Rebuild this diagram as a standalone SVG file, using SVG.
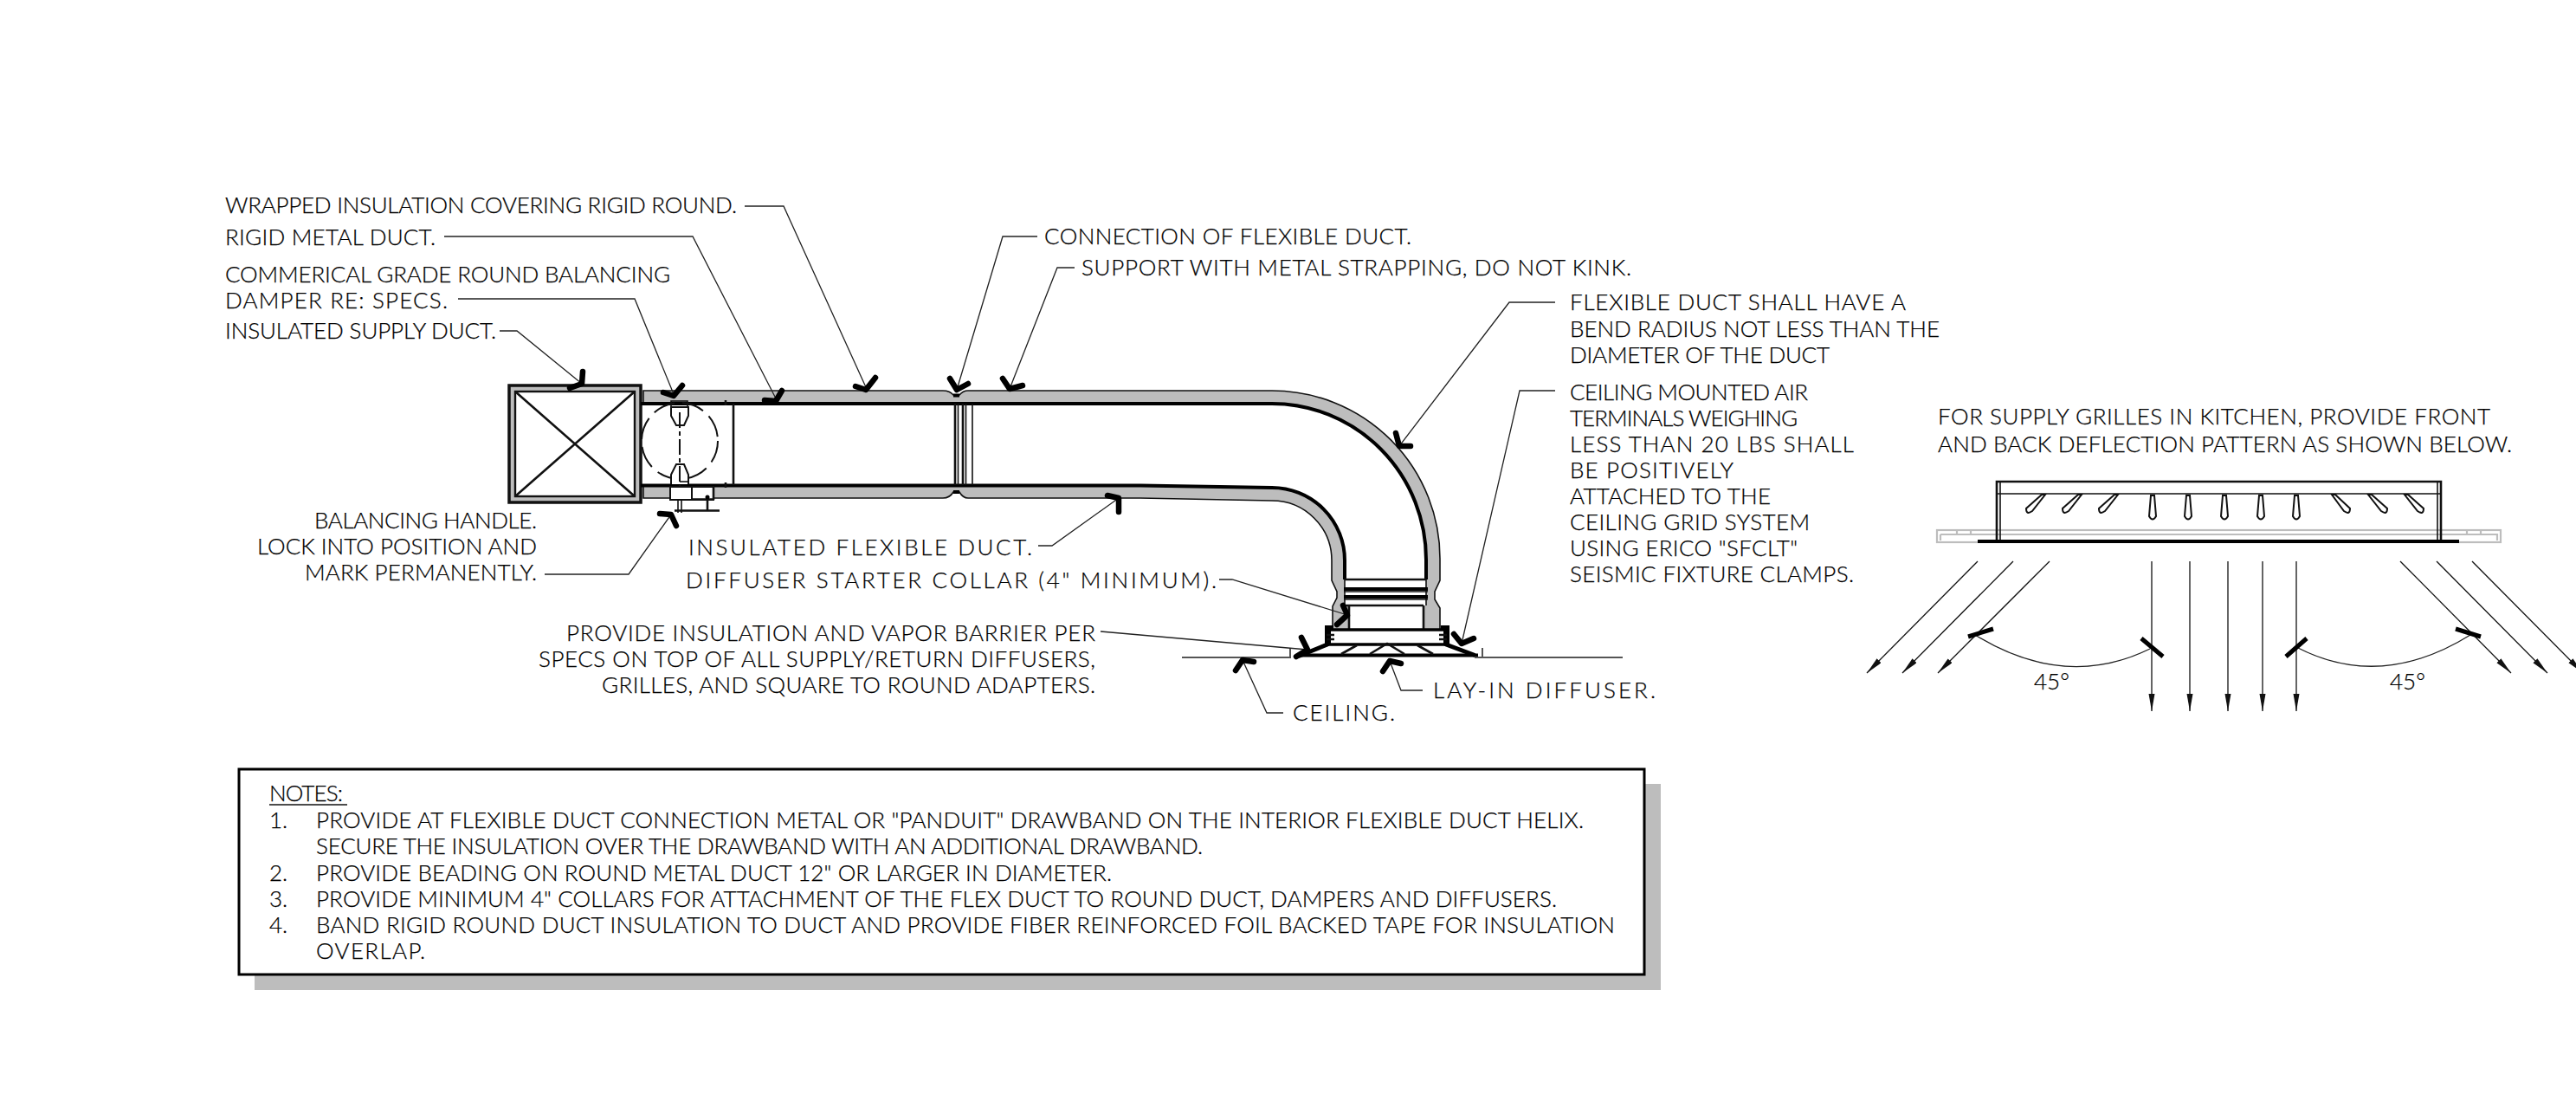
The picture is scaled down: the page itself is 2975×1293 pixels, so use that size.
<svg xmlns="http://www.w3.org/2000/svg" width="2975" height="1293" viewBox="0 0 2975 1293">
<style>
text{font-family:"Lato","Liberation Sans",sans-serif;font-weight:300;font-size:26px;fill:#000;stroke:#000;stroke-width:.25}
.lead{fill:none;stroke:#222;stroke-width:1.3}
.tick{fill:none;stroke:#000;stroke-width:6.5;stroke-linecap:round;stroke-linejoin:round}
.thin{fill:none;stroke:#111;stroke-width:1.6}
.med{fill:none;stroke:#111;stroke-width:2.6}
.thick{fill:none;stroke:#000;stroke-width:4}
.ins{fill:#bdbdbd}
.flow{fill:none;stroke:#111;stroke-width:1.3;marker-end:url(#ah)}
.gr{fill:none;stroke:#bdbdbd;stroke-width:2.2}
.vane{fill:#fff;stroke:#111;stroke-width:2}
</style>
<defs>
<marker id="ah" markerUnits="userSpaceOnUse" markerWidth="22" markerHeight="8" refX="20" refY="3.5" orient="auto"><path d="M0 0L20 3.5L0 7Z" fill="#111"/></marker>
</defs>
<rect width="2975" height="1293" fill="#fff"/>

<g id="supply-duct">
<rect x="588" y="445" width="152" height="135" fill="#bdbdbd" stroke="#111" stroke-width="3.5"/>
<rect x="595" y="452" width="138" height="121" fill="#fff" stroke="#111" stroke-width="2.4"/>
<path class="med" d="M595 452L733 573M733 452L595 573"/>
</g>

<g id="duct">
<path class="ins" d="M743 451H1089Q1097 451 1101 456H1108Q1112 451 1118 451H1469A194 194 0 0 1 1663 646V670L1657 683V692L1663 702V727H1644V699H1647V646A178 180 0 0 0 1469 466H743Z"/>
<path class="ins" d="M743 575H1089Q1097 575 1101 568H1108Q1112 575 1118 575H1317L1469 578A69 69 0 0 1 1538 647V670L1544 683V690L1539 700V727H1558V699H1553V647A84 84 0 0 0 1469 563L1317 560H743Z"/>
<path class="thin" d="M743 466V451H1089Q1097 451 1101 456H1108Q1112 451 1118 451H1469A194 194 0 0 1 1663 646V670L1657 683V692L1663 702V727"/>
<path class="thin" d="M743 560V575H1089Q1097 575 1101 568H1108Q1112 575 1118 575H1317L1469 578A69 69 0 0 1 1538 647V670L1544 683V690L1539 700V727"/>
<path class="thick" d="M740 466H1469A178 180 0 0 1 1647 646V669"/>
<path class="thick" d="M740 560.500H1317L1469 563A84 84 0 0 1 1553 647V669"/>
<path class="med" d="M847 466V560M838 462V468M838 557V563"/>
<path class="med" d="M1103 466V560M1112 466V560"/>
<path class="thin" d="M1106.500 466V560M1115.500 466V560M1123 466V560"/>
<path class="thick" d="M1101 456.500H1108M1101 568H1108"/>
</g>

<g id="damper">
<circle cx="785" cy="509" r="44" fill="none" stroke="#111" stroke-width="2" stroke-dasharray="26 9"/>
<rect x="775" y="463" width="19" height="7" fill="none" stroke="#111" stroke-width="1.6"/>
<path class="thin" style="fill:#fff;stroke-width:2" d="M775 470V480L781 491H790L795 480V470Z"/>
<path class="thin" style="fill:#fff;stroke-width:2" d="M775 559V548L781 536H790L795 548V559"/>
<path class="thin" style="stroke-width:2" d="M785 476V570" stroke-dasharray="18 4 5 4"/>
<path class="thin" d="M785 556H795"/>
<rect x="774" y="562" width="25" height="15" fill="#fff" stroke="#111" stroke-width="2"/>
<rect x="799" y="562" width="25" height="15" fill="#fff" stroke="#111" stroke-width="2"/>
<path class="med" d="M799 576.500H824M824 562V577"/>
<path class="thin" d="M783 577V592M787 577V592"/>
<path class="med" d="M779 589.500H831M817 575V589"/>
<circle cx="817" cy="574" r="2.500" fill="#000"/>
</g>

<g id="collar">
<path class="med" d="M1553 669H1647M1553 699H1644M1558 699V727M1644 699V727"/>
<path class="thin" d="M1553 669V699M1647 669V699"/>
<path class="thick" d="M1552 680H1649M1552 689H1649"/>
<path class="thin" d="M1552 683H1649M1552 692H1649"/>
</g>

<g id="diffuser">
<rect x="1533" y="727" width="137" height="17" fill="#fff" stroke="#000" stroke-width="3.5"/>
<path d="M1530 722H1540V727H1537V743H1530ZM1664 722H1674V743H1667V727H1664Z" fill="#000"/>
<path class="med" d="M1532 733H1541M1532 738H1541M1662 733H1671M1662 738H1671"/>
<path class="tick" style="stroke-width:5" d="M1533 744L1501 757M1670 744L1702 756"/>
<path class="thick" d="M1497 756.500H1707"/>
<path class="med" d="M1549 755L1567 745M1582 755L1602 743L1622 755M1637 745L1655 755"/>
<path class="thin" d="M1590 744H1613"/>
<path class="med" style="stroke:#555;stroke-width:2" d="M1365 759H1490V748M1703 759H1874M1712 759V748"/>
</g>

<g id="grille">
<rect x="2237" y="612" width="651" height="14" class="gr"/>
<path class="gr" d="M2241 617H2884V624M2241 617V624M2260 612V617M2276 612V617M2849 612V617M2865 612V617"/>
<path class="med" d="M2306 625V556H2819V625"/>
<path class="thin" d="M2310 556V625M2815 556V625M2306 570H2819"/>
<path class="thick" d="M2284 625H2840"/>
<g id="vanes">
<path class="vane" d="M2484 572H2488L2490 596Q2486 603 2482 596Z"/>
<path class="vane" d="M2525 572H2529L2531 596Q2527 603 2523 596Z"/>
<path class="vane" d="M2567 572H2571L2573 596Q2569 603 2565 596Z"/>
<path class="vane" d="M2609 572H2613L2615 596Q2611 603 2607 596Z"/>
<path class="vane" d="M2650 572H2654L2656 596Q2652 603 2648 596Z"/>
<path class="vane" d="M2358 571H2362L2347 590Q2340 595 2340 587Z"/>
<path class="vane" d="M2400 571H2404L2389 590Q2382 595 2382 587Z"/>
<path class="vane" d="M2442 571H2446L2431 590Q2424 595 2424 587Z"/>
<path class="vane" d="M2693 571H2697L2714 587Q2714 595 2707 590Z"/>
<path class="vane" d="M2735 571H2739L2757 587Q2757 595 2750 590Z"/>
<path class="vane" d="M2777 571H2781L2799 587Q2799 595 2792 590Z"/>
</g>
</g>

<g id="connectors">
<path class="lead" d="M860 238H905L1000 447"/>
<path class="lead" d="M513 273H800L896 460"/>
<path class="lead" d="M529 345H733L778 455"/>
<path class="lead" d="M577 382H597L672 443"/>
<path class="lead" d="M629 663H726L775 594"/>
<path class="lead" d="M1198 273H1158L1105 450"/>
<path class="lead" d="M1241 309H1221L1166 449"/>
<path class="lead" d="M1796 349H1743L1616 515"/>
<path class="lead" d="M1796 451H1755L1688 743"/>
<path class="lead" d="M1199 630H1215L1292 575"/>
<path class="lead" d="M1408 669H1423L1556 710"/>
<path class="lead" d="M1271 729L1510 750"/>
<path class="lead" d="M1435 762L1463 823H1482"/>
<path class="lead" d="M1605 763L1618 797H1643"/>
<g>
<path class="tick" d="M658 448L672 443L673 429"/>
<path class="tick" d="M766 453L778 457L788 445"/>
<path class="tick" d="M883 462L896 463L903 451"/>
<path class="tick" d="M988 446L1000 450L1011 436"/>
<path class="tick" d="M1097 437L1105 450L1118 443"/>
<path class="tick" d="M1158 437L1166 449L1181 445"/>
<path class="tick" d="M1612 500L1616 515L1629 515"/>
<path class="tick" d="M1279 572L1292 575L1292 591"/>
<path class="tick" d="M762 593L775 594L781 607"/>
<path class="tick" d="M1551 699L1556 710L1544 721"/>
<path class="tick" d="M1503 736L1510 750L1497 758"/>
<path class="tick" d="M1679 732L1688 743L1702 737"/>
<path class="tick" d="M1427 774L1435 762L1448 764"/>
<path class="tick" d="M1597 775L1605 763L1618 766"/>
</g>
<path class="flow" d="M2284 648L2156 777"/>
<path class="flow" d="M2325 648L2197 777"/>
<path class="flow" d="M2367 648L2238 777"/>
<path class="flow" d="M2485 648V821"/>
<path class="flow" d="M2529 648V821"/>
<path class="flow" d="M2573 648V821"/>
<path class="flow" d="M2613 648V821"/>
<path class="flow" d="M2652 648V821"/>
<path class="flow" d="M2772 648L2900 777"/>
<path class="flow" d="M2814 648L2942 777"/>
<path class="flow" d="M2855 648L2983 777"/>
<path class="lead" d="M2281 733Q2385 797 2483 749M2654 748Q2750 797 2853 733"/>
<path class="tick" style="stroke-width:5;stroke-linecap:butt" d="M2273 735L2302 726M2473 737L2498 758M2664 737L2640 758M2836 726L2865 735"/>
</g>

<g id="labels">
<text x="260" y="246" textLength="591">WRAPPED INSULATION COVERING RIGID ROUND.</text>
<text x="260" y="283" textLength="243">RIGID METAL DUCT.</text>
<text x="260" y="326" textLength="514">COMMERICAL GRADE ROUND BALANCING</text>
<text x="260" y="356" textLength="257">DAMPER RE: SPECS.</text>
<text x="260" y="391" textLength="313">INSULATED SUPPLY DUCT.</text>
<text x="363" y="610" textLength="257">BALANCING HANDLE.</text>
<text x="297" y="640" textLength="323">LOCK INTO POSITION AND</text>
<text x="352" y="670" textLength="268">MARK PERMANENTLY.</text>
<text x="795" y="641" textLength="397">INSULATED FLEXIBLE DUCT.</text>
<text x="792" y="679" textLength="613">DIFFUSER STARTER COLLAR (4" MINIMUM).</text>
<text x="654" y="740" textLength="611">PROVIDE INSULATION AND VAPOR BARRIER PER</text>
<text x="622" y="770" textLength="643">SPECS ON TOP OF ALL SUPPLY/RETURN DIFFUSERS,</text>
<text x="695" y="800" textLength="570">GRILLES, AND SQUARE TO ROUND ADAPTERS.</text>
<text x="1493" y="832" textLength="118">CEILING.</text>
<text x="1655" y="806" textLength="257">LAY-IN DIFFUSER.</text>
<text x="1206" y="282" textLength="424">CONNECTION OF FLEXIBLE DUCT.</text>
<text x="1249" y="318" textLength="635">SUPPORT WITH METAL STRAPPING, DO NOT KINK.</text>
<text x="1813" y="358" textLength="388">FLEXIBLE DUCT SHALL HAVE A</text>
<text x="1813" y="389" textLength="427">BEND RADIUS NOT LESS THAN THE</text>
<text x="1813" y="419" textLength="300">DIAMETER OF THE DUCT</text>
<text x="1813" y="462" textLength="275">CEILING MOUNTED AIR</text>
<text x="1813" y="492" textLength="263">TERMINALS WEIGHING</text>
<text x="1813" y="522" textLength="328">LESS THAN 20 LBS SHALL</text>
<text x="1813" y="552" textLength="189">BE POSITIVELY</text>
<text x="1813" y="582" textLength="232">ATTACHED TO THE</text>
<text x="1813" y="612" textLength="277">CEILING GRID SYSTEM</text>
<text x="1813" y="642" textLength="263">USING ERICO "SFCLT"</text>
<text x="1813" y="672" textLength="328">SEISMIC FIXTURE CLAMPS.</text>
<text x="2238" y="490" textLength="638">FOR SUPPLY GRILLES IN KITCHEN, PROVIDE FRONT</text>
<text x="2238" y="522" textLength="663">AND BACK DEFLECTION PATTERN AS SHOWN BELOW.</text>
<text x="2349" y="796" textLength="41">45°</text>
<text x="2760" y="796" textLength="41">45°</text>
</g>

<g id="notes">
<rect x="294" y="905" width="1624" height="238" fill="#bdbdbd"/>
<rect x="276" y="888" width="1623" height="237" fill="#fff" stroke="#000" stroke-width="3"/>
<text x="311" y="925" textLength="85">NOTES:</text>
<path class="thin" d="M311 929H401"/>
<text x="311" y="956">1.</text>
<text x="365" y="956" textLength="1464">PROVIDE AT FLEXIBLE DUCT CONNECTION METAL OR "PANDUIT" DRAWBAND ON THE INTERIOR FLEXIBLE DUCT HELIX.</text>
<text x="365" y="986" textLength="1024">SECURE THE INSULATION OVER THE DRAWBAND WITH AN ADDITIONAL DRAWBAND.</text>
<text x="311" y="1017">2.</text>
<text x="365" y="1017" textLength="919">PROVIDE BEADING ON ROUND METAL DUCT 12" OR LARGER IN DIAMETER.</text>
<text x="311" y="1047">3.</text>
<text x="365" y="1047" textLength="1433">PROVIDE MINIMUM 4" COLLARS FOR ATTACHMENT OF THE FLEX DUCT TO ROUND DUCT, DAMPERS AND DIFFUSERS.</text>
<text x="311" y="1077">4.</text>
<text x="365" y="1077" textLength="1500">BAND RIGID ROUND DUCT INSULATION TO DUCT AND PROVIDE FIBER REINFORCED FOIL BACKED TAPE FOR INSULATION</text>
<text x="365" y="1107" textLength="126">OVERLAP.</text>
</g>
</svg>
